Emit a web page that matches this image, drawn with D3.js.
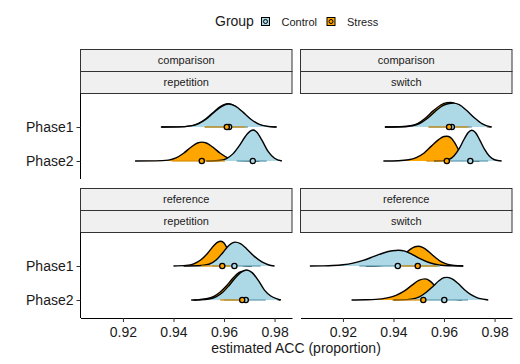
<!DOCTYPE html>
<html>
<head>
<meta charset="utf-8">
<script src="https://cdn.jsdelivr.net/npm/d3@7"></script>
<style>
  body { margin: 0; background: #fff; }
  svg { display: block; font-family: "Liberation Sans", Arial, sans-serif; }
</style>
</head>
<body>
<svg id="chart" width="520" height="364"></svg>
<script>
// facets, categories and ticks
const contrasts = ["comparison", "reference"];
const trials = ["repetition", "switch"];
const phases = ["Phase1", "Phase2"];
const groups = ["Control", "Stress"];
const xTicks = [0.92, 0.94, 0.96, 0.98];

// posterior density of estimated ACC: [accuracy, relative density]
const cmpRepP1Control = [[0.9353,0],[0.9420,0.005],[0.9470,0.035],[0.9500,0.11],[0.9530,0.26],[0.9560,0.47],[0.9590,0.66],[0.9618,0.74],[0.9645,0.67],[0.9675,0.48],[0.9705,0.26],[0.9735,0.10],[0.9765,0.03],[0.9809,0]];
const cmpRepP1Stress = [[0.9350,0],[0.9417,0.005],[0.9467,0.035],[0.9497,0.11],[0.9527,0.26],[0.9557,0.47],[0.9587,0.67],[0.9614,0.755],[0.9641,0.68],[0.9671,0.48],[0.9701,0.26],[0.9731,0.10],[0.9761,0.03],[0.9805,0]];
const cmpRepP2Control = [[0.9530,0],[0.9550,0.002],[0.9580,0.015],[0.9610,0.08],[0.9635,0.23],[0.9660,0.49],[0.9685,0.80],[0.9705,0.97],[0.9716,1.0],[0.9730,0.93],[0.9750,0.67],[0.9775,0.30],[0.9800,0.087],[0.9829,0]];
const cmpRepP2Stress = [[0.9248,0],[0.9330,0.005],[0.9380,0.03],[0.9410,0.10],[0.9440,0.25],[0.9470,0.45],[0.9495,0.58],[0.9512,0.61],[0.9530,0.58],[0.9555,0.45],[0.9585,0.25],[0.9615,0.10],[0.9645,0.03],[0.9700,0.003],[0.9740,0]];
const cmpSwiP1Control = [[0.9366,0],[0.9430,0.006],[0.9475,0.04],[0.9505,0.12],[0.9535,0.28],[0.9565,0.50],[0.9595,0.69],[0.9620,0.76],[0.9637,0.77],[0.9660,0.72],[0.9690,0.53],[0.9720,0.30],[0.9750,0.11],[0.9770,0.035],[0.9789,0]];
const cmpSwiP1Stress = [[0.9366,0],[0.9425,0.007],[0.9467,0.04],[0.9497,0.12],[0.9527,0.29],[0.9557,0.52],[0.9587,0.71],[0.9612,0.785],[0.9627,0.795],[0.9650,0.73],[0.9680,0.53],[0.9710,0.29],[0.9740,0.11],[0.9762,0.03],[0.9785,0]];
const cmpSwiP2Control = [[0.9560,0],[0.9590,0.005],[0.9620,0.05],[0.9640,0.17],[0.9660,0.40],[0.9680,0.71],[0.9695,0.91],[0.9710,0.99],[0.9725,0.91],[0.9740,0.70],[0.9760,0.38],[0.9780,0.15],[0.9800,0.04],[0.9828,0]];
const cmpSwiP2Stress = [[0.9360,0],[0.9420,0.01],[0.9460,0.04],[0.9490,0.11],[0.9520,0.25],[0.9550,0.48],[0.9580,0.70],[0.9600,0.79],[0.9611,0.80],[0.9625,0.76],[0.9640,0.62],[0.9655,0.40],[0.9670,0.20],[0.9690,0.06],[0.9720,0.005],[0.9740,0]];
const refRepP1Control = [[0.9440,0],[0.9500,0.006],[0.9540,0.055],[0.9570,0.20],[0.9595,0.43],[0.9620,0.67],[0.9644,0.77],[0.9665,0.72],[0.9690,0.55],[0.9720,0.31],[0.9750,0.13],[0.9775,0.04],[0.9800,0]];
const refRepP1Stress = [[0.9400,0],[0.9450,0.02],[0.9480,0.07],[0.9510,0.21],[0.9535,0.41],[0.9560,0.66],[0.9575,0.77],[0.9588,0.80],[0.9600,0.74],[0.9615,0.53],[0.9635,0.23],[0.9655,0.066],[0.9680,0.01],[0.9710,0]];
const refRepP2Control = [[0.9480,0],[0.9500,0.005],[0.9540,0.034],[0.9570,0.11],[0.9595,0.25],[0.9620,0.47],[0.9645,0.72],[0.9670,0.91],[0.9690,0.97],[0.9710,0.89],[0.9735,0.64],[0.9760,0.32],[0.9785,0.13],[0.9810,0.037],[0.9825,0]];
const refRepP2Stress = [[0.9470,0],[0.9500,0.008],[0.9530,0.04],[0.9560,0.12],[0.9585,0.26],[0.9610,0.46],[0.9635,0.70],[0.9660,0.89],[0.9680,0.94],[0.9700,0.86],[0.9725,0.60],[0.9750,0.30],[0.9775,0.12],[0.9800,0.035],[0.9822,0]];
const refSwiP1Control = [[0.9069,0],[0.9120,0.004],[0.9160,0.014],[0.9200,0.04],[0.9240,0.093],[0.9280,0.18],[0.9320,0.30],[0.9360,0.42],[0.9395,0.49],[0.9419,0.51],[0.9445,0.48],[0.9475,0.37],[0.9505,0.24],[0.9535,0.13],[0.9565,0.058],[0.9600,0.018],[0.9640,0.003],[0.9676,0]];
const refSwiP1Stress = [[0.9290,0],[0.9340,0.01],[0.9380,0.064],[0.9410,0.18],[0.9440,0.36],[0.9465,0.53],[0.9485,0.62],[0.9498,0.635],[0.9515,0.60],[0.9540,0.46],[0.9565,0.28],[0.9590,0.13],[0.9615,0.05],[0.9640,0.015],[0.9676,0]];
const refSwiP2Control = [[0.9400,0],[0.9430,0.004],[0.9470,0.027],[0.9500,0.095],[0.9530,0.25],[0.9555,0.43],[0.9580,0.62],[0.9600,0.72],[0.9611,0.73],[0.9630,0.69],[0.9655,0.54],[0.9680,0.34],[0.9705,0.18],[0.9730,0.076],[0.9755,0.027],[0.9775,0]];
const refSwiP2Stress = [[0.9234,0],[0.9290,0.006],[0.9330,0.02],[0.9370,0.06],[0.9410,0.15],[0.9445,0.30],[0.9475,0.49],[0.9500,0.63],[0.9525,0.68],[0.9545,0.61],[0.9565,0.44],[0.9590,0.22],[0.9615,0.076],[0.9640,0.019],[0.9670,0]];

// point estimate and interval, order: contrast > trial > phase > group
const pointEst = [0.9620, 0.9611, 0.9714, 0.9512, 0.9631, 0.9620, 0.9704, 0.9611,
                  0.9641, 0.9593, 0.9686, 0.9672, 0.9417, 0.9496, 0.9601, 0.9518];
const lower    = [0.9525, 0.9522, 0.9650, 0.9393, 0.9540, 0.9538, 0.9615, 0.9530,
                  0.9555, 0.9510, 0.9600, 0.9585, 0.9265, 0.9425, 0.9515, 0.9395];
const upper    = [0.9695, 0.9685, 0.9769, 0.9604, 0.9710, 0.9696, 0.9775, 0.9625,
                  0.9745, 0.9625, 0.9765, 0.9700, 0.9585, 0.9575, 0.9695, 0.9525];

const densities = [cmpRepP1Control, cmpRepP1Stress, cmpRepP2Control, cmpRepP2Stress,
                   cmpSwiP1Control, cmpSwiP1Stress, cmpSwiP2Control, cmpSwiP2Stress,
                   refRepP1Control, refRepP1Stress, refRepP2Control, refRepP2Stress,
                   refSwiP1Control, refSwiP1Stress, refSwiP2Control, refSwiP2Stress];

const fillCol = {Control: "#add8e6", Stress: "#ffa500"};
const lineCol = {Control: "#5d9db3", Stress: "#d98c00"};

// layout
const panelW = 211.5, panelH = 85.5, stripH = 22;
const colX = [80.5, 300.5];
const rowTop = [49.5, 188.5];

const svg = d3.select("#chart");

const x = d3.scaleLinear().domain([0.9032, 0.9869]).range([0, panelW]);
const y = d3.scalePoint().domain(phases).range([33.5, 67.5]);
const h = d3.scaleLinear().domain([0, 1]).range([0, 31]);

// legend
const legend = svg.append("g");
legend.append("text").attr("x", 215).attr("y", 26).attr("font-size", "14px")
  .attr("fill", "#1a1a1a").text("Group");
const keyX = {Control: 261.5, Stress: 327};
groups.forEach(g => {
  legend.append("rect").attr("x", keyX[g]).attr("y", 17.5).attr("width", 8).attr("height", 8)
    .attr("fill", fillCol[g]).attr("stroke", "#000").attr("stroke-width", 1);
  legend.append("circle").attr("cx", keyX[g] + 4).attr("cy", 21.5).attr("r", 2)
    .attr("fill", fillCol[g]).attr("stroke", "#000").attr("stroke-width", 1);
  legend.append("text").attr("x", keyX[g] + 20).attr("y", 25.5).attr("font-size", "11px")
    .attr("fill", "#1a1a1a").text(g);
});

contrasts.forEach((con, ci) => {
  trials.forEach((tr, ti) => {
    const px = colX[ti];
    const sy = rowTop[ci];
    const py = sy + 2 * stripH;
    const g = svg.append("g").attr("transform", `translate(${px},0)`);

    // strips
    [con, tr].forEach((lab, k) => {
      g.append("rect").attr("x", 0).attr("y", sy + k * stripH)
        .attr("width", panelW).attr("height", stripH)
        .attr("fill", "#f0f0f0").attr("stroke", "#333").attr("stroke-width", 1);
      g.append("text").attr("x", panelW / 2).attr("y", sy + k * stripH + stripH / 2)
        .attr("dy", "0.35em").attr("text-anchor", "middle").attr("font-size", "11px")
        .attr("fill", "#1a1a1a").text(lab);
    });

    const plot = g.append("g").attr("transform", `translate(0,${py})`);
    const cells = [];
    phases.forEach((ph, pi) => {
      groups.forEach((gr, gi) => {
        const idx = ((ci * 2 + ti) * 2 + pi) * 2 + gi;
        cells.push({phase: ph, group: gr, dens: densities[idx],
                    est: pointEst[idx], lo: lower[idx], hi: upper[idx]});
      });
    });

    // slabs: Stress under Control
    const slabOrder = ["Stress", "Control"];
    phases.forEach(ph => {
      slabOrder.forEach(gr => {
        const c = cells.find(d => d.phase === ph && d.group === gr);
        const base = y(ph);
        const area = d3.area().x(d => x(d[0])).y0(base).y1(d => base - h(d[1]))
          .curve(d3.curveMonotoneX);
        const line = d3.line().x(d => x(d[0])).y(d => base - h(d[1]))
          .curve(d3.curveMonotoneX);
        plot.append("path").attr("d", area(c.dens)).attr("fill", fillCol[gr]);
        plot.append("path").attr("d", line(c.dens)).attr("fill", "none")
          .attr("stroke", "#000").attr("stroke-width", 1.4);
      });
    });

    // intervals
    ["Control", "Stress"].forEach(gr => {
      cells.filter(d => d.group === gr).forEach(c => {
        plot.append("line").attr("x1", x(c.lo)).attr("x2", x(c.hi))
          .attr("y1", y(c.phase)).attr("y2", y(c.phase))
          .attr("stroke", lineCol[gr]).attr("stroke-width", 1.6).attr("opacity", 0.8);
      });
    });

    // points
    cells.forEach(c => {
      plot.append("circle").attr("cx", x(c.est)).attr("cy", y(c.phase)).attr("r", 2.6)
        .attr("fill", fillCol[c.group]).attr("stroke", "#000").attr("stroke-width", 1.3);
    });

    // y axis only on left column
    if (ti === 0) {
      const ya = plot.append("g")
        .call(d3.axisLeft(y).tickSize(4).tickPadding(3).tickSizeOuter(0));
      ya.select(".domain").attr("d", `M0,0V${panelH}`).attr("stroke", "#000");
      ya.selectAll(".tick line").attr("stroke", "#333");
      ya.selectAll("text").attr("font-size", "14px").attr("fill", "#1a1a1a")
        .attr("font-family", "Liberation Sans, Arial, sans-serif");
    }
    // x axis only on bottom row
    if (ci === 1) {
      const xa = plot.append("g").attr("transform", `translate(0,${panelH})`)
        .call(d3.axisBottom(x).tickValues(xTicks).tickFormat(d3.format(".2f"))
          .tickSize(4).tickPadding(5).tickSizeOuter(0));
      xa.select(".domain").attr("stroke", "#000");
      xa.selectAll(".tick line").attr("stroke", "#333");
      xa.selectAll("text").attr("font-size", "14px").attr("fill", "#1a1a1a")
        .attr("font-family", "Liberation Sans, Arial, sans-serif");
    }
  });
});

svg.append("text").attr("x", 296).attr("y", 353).attr("text-anchor", "middle")
  .attr("font-size", "14px").attr("fill", "#1a1a1a").text("estimated ACC (proportion)");
</script>
</body>
</html>
